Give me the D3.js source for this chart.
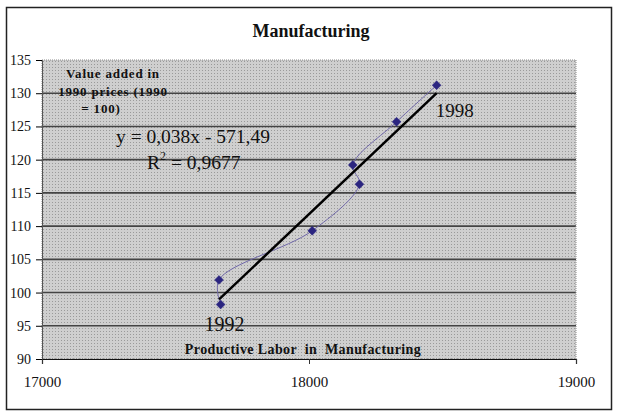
<!DOCTYPE html>
<html><head><meta charset="utf-8">
<script src="https://cdn.jsdelivr.net/npm/d3@7"></script>
<style>body{margin:0;background:#fff}svg{display:block}text{font-family:"Liberation Serif","Times New Roman",serif}</style>
</head><body>
<script>
const years = [1992, 1993, 1994, 1995, 1996, 1997, 1998];
const labor = [17669, 17663, 18012, 18189, 18164, 18328, 18478];
const valueAdded = [98.2, 101.9, 109.3, 116.3, 119.2, 125.7, 131.2];
const xTicks = [17000, 18000, 19000];
const yTicks = [90, 95, 100, 105, 110, 115, 120, 125, 130, 135];
const title = "Manufacturing";
const yTitle = ["Value added in", "1990 prices (1990", "= 100)"];
const xTitle = "Productive Labor  in  Manufacturing";
const eqText = "y = 0,038x - 571,49";
const r2Value = "0,9677";

const W = 620, H = 412;
const svg = d3.select("body").append("svg").attr("width", W).attr("height", H);
const defs = svg.append("defs");
const pat = defs.append("pattern").attr("id","dots").attr("width",3).attr("height",3).attr("patternUnits","userSpaceOnUse");
pat.append("rect").attr("width",3).attr("height",3).attr("fill","#cfcfcf");
pat.append("rect").attr("x",1).attr("y",1).attr("width",1).attr("height",1).attr("fill","#9a9a9a");

// outer frame
svg.append("rect").attr("x",6.5).attr("y",7.5).attr("width",605).attr("height",402).attr("fill","#fff").attr("stroke","#222").attr("stroke-width",1.5);

const L = 42, R = 576, T = 60, B = 359;
const x = d3.scaleLinear().domain([17000, 19000]).range([L, R]);
const y = d3.scaleLinear().domain([90, 135]).range([B, T]);

svg.append("rect").attr("x",L).attr("y",T).attr("width",R-L).attr("height",B-T).attr("fill","url(#dots)");

// gridlines
svg.append("g").selectAll("line").data(yTicks.filter(v => v > 90 && v < 135)).join("line")
  .attr("x1",L).attr("x2",R).attr("y1",d=>y(d)).attr("y2",d=>y(d))
  .attr("stroke","#444").attr("stroke-width",1.6);
svg.append("rect").attr("x",L).attr("y",T).attr("width",R-L).attr("height",B-T).attr("fill","none").attr("stroke","#8a8a8a").attr("stroke-width",1).attr("stroke-dasharray","1,1");

// axes
const yAxis = d3.axisLeft(y).tickValues(yTicks).tickSize(6).tickPadding(5).tickFormat(d3.format("d"));
const gy = svg.append("g").attr("transform",`translate(${L},0)`).call(yAxis);
gy.select(".domain").attr("stroke","#555");
gy.selectAll("text").attr("font-size",14).attr("fill","#111").style("font-family","Liberation Serif");

const xAxis = d3.axisBottom(x).tickValues(xTicks).tickSize(5).tickPadding(12).tickFormat(d3.format("d"));
const gx = svg.append("g").attr("transform",`translate(0,${B})`).call(xAxis);
gx.select(".domain").attr("stroke","#111").attr("stroke-width",1.2);
gx.selectAll("text").attr("font-size",15).attr("fill","#111").style("font-family","Liberation Serif");
gx.selectAll(".tick line").attr("stroke","#333");

// data
const pts = years.map((yr,i) => ({yr, x: labor[i], y: valueAdded[i]}));

const line = d3.line().x(d=>x(d.x)).y(d=>y(d.y)).curve(d3.curveCatmullRom.alpha(0.5));
svg.append("path").datum(pts).attr("d", line).attr("fill","none").attr("stroke","#6f67a8").attr("stroke-width",1);

// linear trend
const n = pts.length;
const mx = d3.mean(pts, d=>d.x), my = d3.mean(pts, d=>d.y);
const slope = d3.sum(pts, d=>(d.x-mx)*(d.y-my)) / d3.sum(pts, d=>(d.x-mx)**2);
const icpt = my - slope*mx;
const [xmin, xmax] = d3.extent(pts, d=>d.x);
svg.append("line").attr("x1",x(xmin)).attr("y1",y(slope*xmin+icpt)).attr("x2",x(xmax)).attr("y2",y(slope*xmax+icpt))
  .attr("stroke","#000").attr("stroke-width",2.5);

// markers
svg.append("g").selectAll("path").data(pts).join("path")
  .attr("d", d3.symbol(d3.symbolDiamond2 || d3.symbolDiamond, 50))
  .attr("transform", d=>`translate(${x(d.x)},${y(d.y)})`)
  .attr("fill","#2b2580").attr("stroke","#2b2580").attr("stroke-width",0.5);

// year labels
const first = pts[0], last = pts[n-1];
svg.append("text").attr("x",x(first.x)+4).attr("y",y(first.y)+26).attr("text-anchor","middle").attr("font-size",20).attr("fill","#111").text(first.yr);
svg.append("text").attr("x",x(last.x)+18).attr("y",y(last.y)+32).attr("text-anchor","middle").attr("font-size",19).attr("fill","#111").text(last.yr);

// title
svg.append("text").attr("x",311).attr("y",37).attr("text-anchor","middle").attr("font-size",18).attr("font-weight","bold").attr("fill","#111").text(title);

// y title
const yt = svg.append("text").attr("font-size",13).attr("font-weight","bold").attr("fill","#111").attr("text-anchor","middle").attr("letter-spacing",0.8);
yTitle.forEach((s,i)=> yt.append("tspan").attr("x", i<2 ? 113 : 101).attr("y", 78 + i*17.5).text(s));

// equation
svg.append("text").attr("x",116).attr("y",143).attr("font-size",19.5).attr("fill","#111").text(eqText);
const r2 = svg.append("text").attr("x",147).attr("y",169).attr("font-size",19.5).attr("fill","#111");
r2.append("tspan").text("R");
r2.append("tspan").attr("dy",-9).attr("font-size",12).text("2");
r2.append("tspan").attr("dy",9).text(" = " + r2Value);

// x title
svg.append("text").attr("x",303).attr("y",354).attr("text-anchor","middle").attr("font-size",14).attr("font-weight","bold").attr("fill","#111").attr("letter-spacing",0.4).style("white-space","pre").text(xTitle);
</script>
</body></html>
